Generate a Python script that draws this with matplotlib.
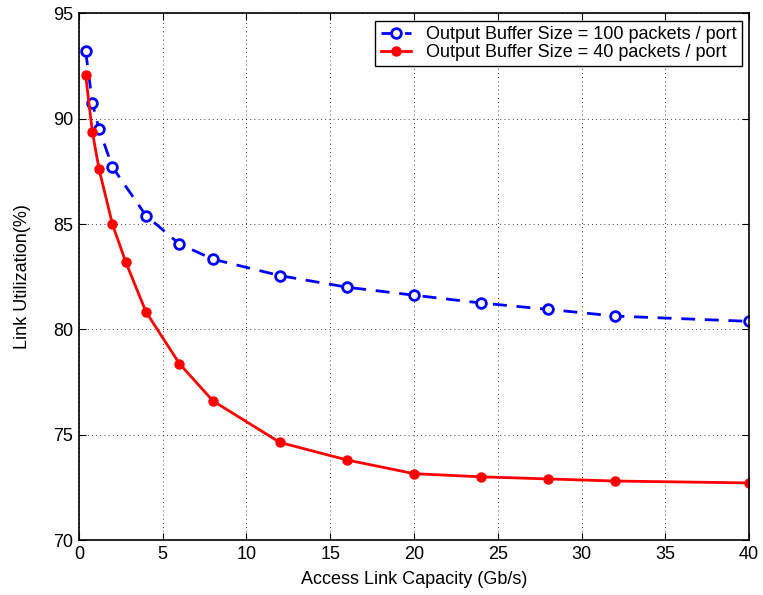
import matplotlib
matplotlib.use('Agg')
import matplotlib.pyplot as plt

# capacity (Gb/s) and utilization (%)
cap_100 = [0.4, 0.8, 1.2, 2, 4, 6, 8, 12, 16, 20, 24, 28, 32, 40]
util_100 = [93.2, 90.75, 89.5, 87.7, 85.4, 84.05, 83.33, 82.55, 82.0, 81.62, 81.25, 80.95, 80.63, 80.38]
cap_40 = [0.4, 0.8, 1.2, 2, 2.8, 4, 6, 8, 12, 16, 20, 24, 28, 32, 40]
util_40 = [92.05, 89.37, 87.6, 84.98, 83.18, 80.83, 78.37, 76.6, 74.63, 73.8, 73.15, 73.0, 72.9, 72.8, 72.71]

plt.rcParams['font.family'] = ['Liberation Sans', 'DejaVu Sans']
plt.rcParams['font.size'] = 13

fig = plt.figure(figsize=(7.63, 5.95), dpi=100)
ax = fig.add_axes([0.1035, 0.0924, 0.8782, 0.8852])

ax.plot(cap_100, util_100, '--o', color='blue', lw=2, ms=7, mew=2, mfc='white',
        dashes=(5, 3.5), label='Output Buffer Size = 100 packets / port')
ax.plot(cap_40, util_40, '-o', color='red', lw=2, ms=6.5, mew=1, mfc='red',
        label='Output Buffer Size = 40 packets / port')

ax.set_xlim(0, 40)
ax.set_ylim(70, 95)
ax.set_xticks(range(0, 41, 5))
ax.set_yticks(range(70, 96, 5))
ax.tick_params(direction='in', top=True, right=True, length=5, pad=4)
ax.grid(True, color='black', linestyle=(0, (1, 4)), linewidth=0.6)
for s in ax.spines.values():
    s.set_linewidth(1.2)
ax.set_xlabel('Access Link Capacity (Gb/s)', labelpad=6)
ax.set_ylabel('Link Utilization(%)', labelpad=16)
leg = ax.legend(loc='upper right', fancybox=False, edgecolor='black', framealpha=1,
                handlelength=1.7, handletextpad=0.8, borderaxespad=0.4,
                borderpad=0.3, labelspacing=0.05)
leg.get_frame().set_linewidth(1.0)

fig.savefig('out.png', dpi=100)
